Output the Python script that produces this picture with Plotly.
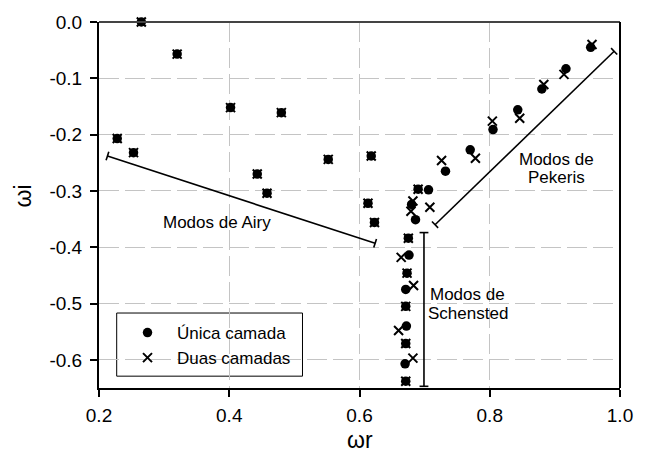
import plotly.graph_objects as go
import math

# ---------------- data ----------------
# Única camada (single layer)
unica_r = [0.265, 0.320, 0.228, 0.253, 0.402, 0.480, 0.443, 0.458, 0.552, 0.618, 0.613, 0.623,
           0.690, 0.706, 0.680, 0.686,
           0.675, 0.676, 0.673, 0.671, 0.671, 0.672, 0.671, 0.670, 0.671,
           0.732, 0.770, 0.805, 0.843, 0.880, 0.917, 0.955]
unica_i = [0.000, -0.057, -0.207, -0.232, -0.152, -0.161, -0.270, -0.304, -0.244, -0.238, -0.322, -0.356,
           -0.297, -0.298, -0.324, -0.351,
           -0.384, -0.414, -0.446, -0.475, -0.505, -0.540, -0.571, -0.607, -0.638,
           -0.265, -0.227, -0.191, -0.156, -0.119, -0.083, -0.045]

# Duas camadas (two layers)
duas_r = [0.265, 0.320, 0.228, 0.253, 0.402, 0.480, 0.443, 0.458, 0.552, 0.618, 0.613, 0.623,
          0.690, 0.708, 0.682, 0.679,
          0.675, 0.664, 0.673, 0.683, 0.671, 0.660, 0.671, 0.682, 0.671,
          0.726, 0.778, 0.804, 0.846, 0.883, 0.914, 0.957]
duas_i = [0.000, -0.057, -0.207, -0.232, -0.152, -0.161, -0.270, -0.304, -0.244, -0.238, -0.322, -0.356,
          -0.297, -0.329, -0.318, -0.336,
          -0.384, -0.418, -0.446, -0.468, -0.505, -0.548, -0.571, -0.597, -0.638,
          -0.246, -0.242, -0.176, -0.171, -0.111, -0.093, -0.040]

x_ticks = [0.2, 0.4, 0.6, 0.8, 1.0]
y_ticks = [0.0, -0.1, -0.2, -0.3, -0.4, -0.5, -0.6]
x_range = [0.2, 1.0]
y_range = [-0.65, 0.0]

# bracket lines (annotation guides): (r0, i0, r1, i1)
airy_line = (0.213, -0.238, 0.624, -0.393)
pekeris_line = (0.716, -0.360, 0.991, -0.052)
schensted_line = (0.699, -0.374, 0.699, -0.647)

# ---------------- layout geometry ----------------
W, H = 645, 461
ML, MR, MT, MB = 99, 16, 17, 73
PW = W - ML - MR
PH = H - MT - MB
FONT = "Liberation Sans, Arial, sans-serif"


def to_px(r, i):
    px = ML + (r - x_range[0]) / (x_range[1] - x_range[0]) * PW
    py = MT + (y_range[1] - i) / (y_range[1] - y_range[0]) * PH
    return px, py


def to_data(px, py):
    r = x_range[0] + (px - ML) / PW * (x_range[1] - x_range[0])
    i = y_range[1] - (py - MT) / PH * (y_range[1] - y_range[0])
    return r, i


fig = go.Figure()

NB = "\u00a0\u00a0"
fig.add_trace(go.Scatter(
    x=unica_r, y=unica_i, mode="markers", name=NB + "Única camada",
    marker=dict(symbol="circle", size=9.5, color="black"),
    cliponaxis=False))
fig.add_trace(go.Scatter(
    x=duas_r, y=duas_i, mode="markers", name=NB + "Duas camadas",
    marker=dict(symbol="x-thin", size=9, color="black", line=dict(color="black", width=2)),
    cliponaxis=False))

shapes = []


def bracket(seg, cap=9):
    r0, i0, r1, i1 = seg
    p0 = to_px(r0, i0)
    p1 = to_px(r1, i1)
    shapes.append(dict(type="line", xref="x", yref="y", x0=r0, y0=i0, x1=r1, y1=i1,
                       line=dict(color="black", width=1.6)))
    dx, dy = p1[0] - p0[0], p1[1] - p0[1]
    L = math.hypot(dx, dy)
    nx, ny = -dy / L, dx / L
    for (px, py) in (p0, p1):
        a = to_data(px - nx * cap / 2, py - ny * cap / 2)
        b = to_data(px + nx * cap / 2, py + ny * cap / 2)
        shapes.append(dict(type="line", xref="x", yref="y", x0=a[0], y0=a[1], x1=b[0], y1=b[1],
                           line=dict(color="black", width=1.6)))


bracket(airy_line)
bracket(pekeris_line)
bracket(schensted_line)

# frame: top (dark grey) and right (black)
shapes.append(dict(type="line", xref="paper", yref="paper", x0=0, x1=1, y0=1, y1=1,
                   line=dict(color="#444444", width=2), layer="above"))
shapes.append(dict(type="line", xref="paper", yref="paper", x0=1, x1=1, y0=0, y1=1,
                   line=dict(color="black", width=2), layer="above"))
# legend box
shapes.append(dict(type="rect", xref="paper", yref="paper",
                   x0=(117 - ML) / PW, x1=(306 - ML) / PW,
                   y0=(H - MB - 376) / PH, y1=(H - MB - 312) / PH,
                   line=dict(color="black", width=1), fillcolor="white", layer="below"))

ann_font = dict(family=FONT, size=17, color="black")


def ann(x, y, text, **kw):
    d = dict(x=x, y=y, text=text, showarrow=False, xanchor="center", yanchor="middle", font=ann_font)
    d.update(kw)
    return d


annotations = [
    ann(0.381, -0.356, "Modos de Airy", xref="x", yref="y"),
    ann(0.903, -0.245, "Modos de", xref="x", yref="y"),
    ann(0.903, -0.277, "Pekeris", xref="x", yref="y"),
    ann(0.766, -0.484, "Modos de", xref="x", yref="y"),
    ann(0.766, -0.517, "Schensted", xref="x", yref="y"),
    ann((365 - ML) / PW, (H - MB - 441) / PH, "ωr", xref="paper", yref="paper",
        font=dict(family=FONT, size=23, color="black")),
    ann((21.5 - ML) / PW, (H - MB - 193) / PH, "ωi", xref="paper", yref="paper", textangle=-90,
        font=dict(family=FONT, size=23, color="black")),
]

grid = dict(showgrid=True, gridcolor="#c4c4c4", gridwidth=1, griddash="20px,6px")

fig.update_layout(
    width=W, height=H,
    margin=dict(l=ML, r=MR, t=MT, b=MB),
    plot_bgcolor="white", paper_bgcolor="white",
    font=dict(family=FONT, size=19, color="black"),
    showlegend=True,
    legend=dict(x=(128 - ML) / PW, y=(H - MB - 314) / PH, xanchor="left", yanchor="top",
                bgcolor="rgba(0,0,0,0)", borderwidth=0,
                font=dict(family=FONT, size=17, color="black")),
    shapes=shapes,
    annotations=annotations,
    xaxis=dict(range=x_range, tickvals=x_ticks, ticktext=[f"{v:.1f}" for v in x_ticks],
               ticks="outside", ticklen=7, tickwidth=1.5, tickcolor="black",
               showline=True, linecolor="black", linewidth=2, zeroline=False,
               ticklabelstandoff=2,
               tickfont=dict(family=FONT, size=19), **grid),
    yaxis=dict(range=y_range, tickvals=y_ticks, ticktext=[f"{v:.1f}" for v in y_ticks],
               ticks="outside", ticklen=7, tickwidth=1.5, tickcolor="black",
               showline=True, linecolor="black", linewidth=2, zeroline=False,
               ticklabelstandoff=4,
               tickfont=dict(family=FONT, size=19), **grid),
)

fig.write_html("out.html")
